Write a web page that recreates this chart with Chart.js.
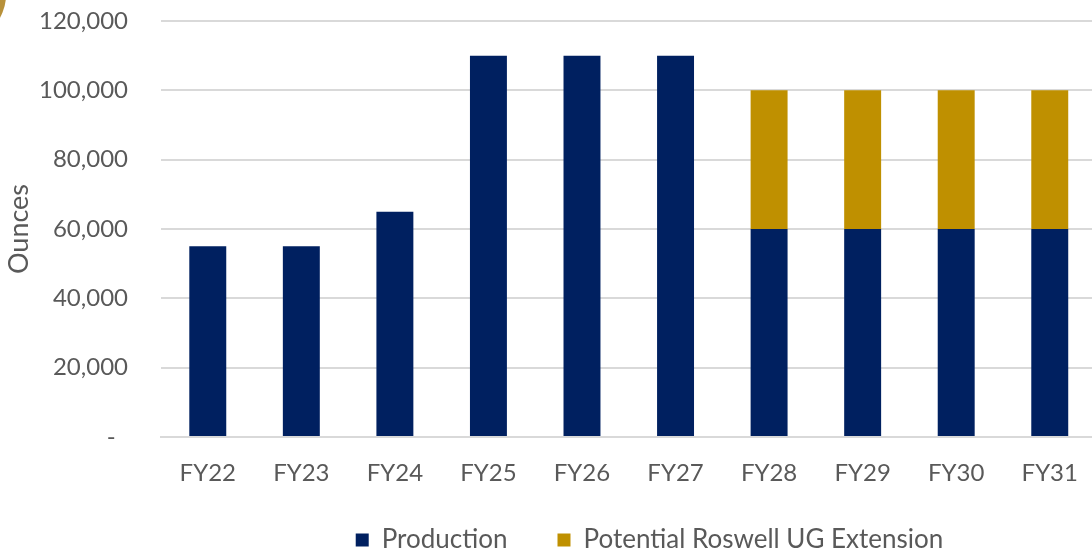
<!DOCTYPE html>
<html>
<head>
<meta charset="utf-8">
<title>Production outlook (ounces)</title>
<script src="https://cdn.jsdelivr.net/npm/chart.js@4/dist/chart.umd.min.js"></script>
<style>
  html, body { margin: 0; padding: 0; background: #ffffff; overflow: hidden; }
  #wrap { position: relative; width: 1092px; height: 551px; overflow: hidden; }
  #box { position: absolute; left: 0; top: 0; width: 1100px; height: 551px; }
</style>
</head>
<body>
<div id="wrap"><div id="box"><canvas id="chart"></canvas></div></div>
<script>
// Fiscal years on the category axis
const categories = ['FY22', 'FY23', 'FY24', 'FY25', 'FY26', 'FY27', 'FY28', 'FY29', 'FY30', 'FY31'];

// Ounces per year
const production = [55000, 55000, 65000, 110000, 110000, 110000, 60000, 60000, 60000, 60000];
const roswellExtension = [null, null, null, null, null, null, 40000, 40000, 40000, 40000];

// Value axis labels, 0 to 120,000 in steps of 20,000 (zero shown as a dash)
const yTickLabels = ['-  ', '20,000', '40,000', '60,000', '80,000', '100,000', '120,000'];

const FONT = 'Lato, "Open Sans", "DejaVu Sans", sans-serif';
const TEXT = '#595959';
const GRID = '#d9d9d9';
const LEGEND_SIZE = 26;
const LEGEND_GAP = 50;

// Places the legend row and draws the corner emblem fragment
const legendPlacer = {
  id: 'legendPlacer',
  beforeDraw(chart) {
    const lg = chart.legend;
    if (!lg) return;
    const w = lg.right - lg.left, h = lg.bottom - lg.top;
    const cx = 649.5;
    lg.left = cx - w / 2;
    lg.right = lg.left + w;
    lg.top = 540 - LEGEND_GAP - LEGEND_SIZE / 2;
    lg.bottom = lg.top + h;
  },
  afterDraw(chart) {
    const ctx = chart.ctx;
    ctx.save();
    ctx.fillStyle = '#b8913a';
    ctx.beginPath();
    ctx.arc(-40, -5, 46, 0, Math.PI * 2);
    ctx.fill();
    ctx.restore();
  }
};

new Chart(document.getElementById('chart'), {
  type: 'bar',
  data: {
    labels: categories,
    datasets: [
      {
        label: 'Production',
        data: production,
        backgroundColor: '#002060',
        borderWidth: 0,
        categoryPercentage: 1,
        barPercentage: 0.395
      },
      {
        label: 'Potential Roswell UG Extension',
        data: roswellExtension,
        backgroundColor: '#bf9000',
        borderWidth: 0,
        categoryPercentage: 1,
        barPercentage: 0.395
      }
    ]
  },
  options: {
    responsive: true,
    maintainAspectRatio: false,
    animation: false,
    // legend block is 26 + 50 + 10 = 86 high, x axis 52: bottom padding brings the plot floor to y=437
    layout: { padding: { top: 21, right: 1, left: 0, bottom: 551 - 437 - 86 - 52 } },
    plugins: {
      tooltip: { enabled: false },
      legend: {
        position: 'bottom',
        labels: {
          color: TEXT,
          font: { family: FONT, size: LEGEND_SIZE },
          boxWidth: 13,
          boxHeight: 13,
          padding: LEGEND_GAP
        }
      }
    },
    scales: {
      x: {
        stacked: true,
        grid: { display: false, drawTicks: false },
        border: { display: true, color: GRID, width: 2 },
        ticks: { color: TEXT, font: { family: FONT, size: 24 }, padding: 22, maxRotation: 0 },
        afterFit(scale) { scale.height = 52; }
      },
      y: {
        stacked: true,
        min: 0,
        max: 120000,
        grid: { color: GRID, lineWidth: 2, drawTicks: false },
        border: { display: false },
        ticks: {
          stepSize: 20000,
          color: TEXT,
          font: { family: FONT, size: 24 },
          padding: 33,
          callback: (value, index) => yTickLabels[index]
        },
        title: {
          display: true,
          text: 'Ounces',
          color: TEXT,
          font: { family: FONT, size: 27 },
          padding: { top: 3, bottom: 0 }
        },
        afterFit(scale) {
          scale.width = 161;
          scale.paddingTop = 0;
          scale.paddingBottom = 0;
        }
      }
    }
  },
  plugins: [legendPlacer]
});
</script>
</body>
</html>
